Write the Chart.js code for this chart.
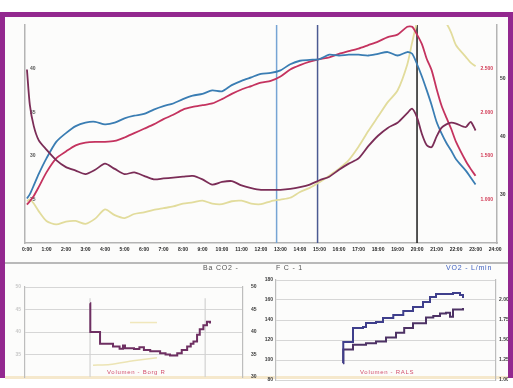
<!DOCTYPE html>
<html>
<head>
<meta charset="utf-8">
<script src="https://cdn.jsdelivr.net/npm/chart.js@4.4.1/dist/chart.umd.min.js"></script>
<style>
  html, body { margin: 0; padding: 0; width: 513px; height: 388px; overflow: hidden; background: #ffffff; }
  #frame { position: absolute; left: 0; top: 12px; width: 503px; height: 361px;
           border: 5px solid #93288f; border-bottom: none; background: #fcfcfb; }
  #sep { position: absolute; left: 5px; top: 262px; width: 503px; height: 2px; background: #b9b9b9; }
  #band { position: absolute; left: 5px; top: 376px; width: 503px; height: 3px; background: #f5e8cc; }
  canvas { position: absolute; }
  .hdr { position: absolute; top: 264px; font: 7px "Liberation Sans", sans-serif; letter-spacing: 0.8px; color: #555; white-space: nowrap; }
  .foot { position: absolute; top: 369px; font: 6px "Liberation Sans", sans-serif; letter-spacing: 0.7px; color: #d2506e; white-space: nowrap; }
</style>
</head>
<body>
<div id="frame"></div>
<div id="sep"></div>
<div id="band"></div>
<canvas id="main" width="502" height="246" style="left:5px;top:17px;"></canvas>
<canvas id="lowLeft" width="258" height="112" style="left:5px;top:276px;"></canvas>
<canvas id="lowRight" width="253" height="114" style="left:255px;top:274px;"></canvas>
<div class="hdr" style="left:203px;">Ba CO2 -</div>
<div class="hdr" style="left:276px;">F C - 1</div>
<div class="hdr" style="left:446px;color:#3d5fbf;">VO2 - L/min</div>
<div class="foot" style="left:107px;">Volumen - Borg R</div>
<div class="foot" style="left:360px;">Volumen - RALS</div>
<script>
// ---- Main test trend: time base in minutes ----
const minutes = [0,0.15,0.35,0.6,1,1.5,2,2.5,3,3.5,4,4.5,5,5.5,6,6.5,7,7.5,8,8.5,9,9.5,10,10.5,11,11.5,12,12.5,13,13.5,14,14.5,15,15.5,16,16.5,17,17.5,18,18.5,19,19.5,19.75,20,20.25,20.5,20.75,21,21.25,21.5,21.75,22,22.5,22.75,23];

// VO2 (L/min), blue
const vo2 = [1.01,1.06,1.16,1.29,1.47,1.66,1.76,1.84,1.88,1.89,1.86,1.88,1.93,1.96,1.98,2.03,2.07,2.10,2.15,2.19,2.21,2.25,2.24,2.31,2.36,2.40,2.44,2.45,2.48,2.55,2.59,2.60,2.61,2.66,2.65,2.66,2.66,2.65,2.67,2.69,2.65,2.69,2.67,2.55,2.41,2.25,2.08,1.89,1.76,1.65,1.56,1.46,1.33,1.25,1.17];

// VCO2 (L/min), red
const vco2 = [0.94,0.98,1.04,1.14,1.31,1.47,1.55,1.62,1.65,1.66,1.66,1.67,1.71,1.76,1.81,1.86,1.92,1.97,2.03,2.06,2.08,2.10,2.15,2.21,2.26,2.30,2.34,2.36,2.41,2.49,2.54,2.58,2.61,2.63,2.67,2.70,2.73,2.77,2.81,2.86,2.89,2.98,2.98,2.89,2.78,2.61,2.48,2.27,2.08,1.94,1.81,1.66,1.44,1.35,1.27];

// Ventilatory equivalent, plum
const eqO2 = [39.9,35.8,33.4,31.8,30.7,29.5,28.7,28.3,27.9,28.4,29.1,28.5,27.9,28.1,27.7,27.3,27.4,27.5,27.6,27.7,27.3,26.7,27.0,27.1,26.6,26.3,26.1,26.1,26.1,26.2,26.4,26.7,27.2,27.6,28.4,29.1,29.7,31.1,32.3,33.2,33.8,34.9,35.4,34.4,32.5,31.2,31.0,32.2,33.2,33.6,33.8,33.7,33.3,33.9,32.9];

// Ventilation, pale yellow
const ve = [28.9,29.2,28.5,27.2,25.5,24.9,25.4,25.5,25.0,25.9,27.5,26.5,26.0,26.7,27.0,27.4,27.7,28.0,28.5,28.7,29.0,28.5,28.4,28.9,29.0,28.5,28.4,28.9,29.2,29.5,30.5,31.2,32.2,33.3,34.5,36.0,38.3,41.0,43.5,46.0,48.0,52.5,56.3,59.8,62.1,63.0,62.1,61.3,60.5,59.6,58.0,55.8,53.8,52.8,52.2];

// Event markers (minutes) and their colours
const markerTimes = [12.8, 14.9, 20.0];
const markerColors = ['#76a4d4', '#4b5a92', '#1c1c1c'];

// Axis ticks and labels
const timeTicks = [0,1,2,3,4,5,6,7,8,9,10,11,12,13,14,15,16,17,18,19,20,21,22,23,24];
const timeLabels = ['0:00','1:00','2:00','3:00','4:00','5:00','6:00','7:00','8:00','9:00','10:00','11:00','12:00','13:00','14:00','15:00','16:00','17:00','18:00','19:00','20:00','21:00','22:00','23:00','24:00'];
const eqTicks = [25, 30, 35, 40];
const flowTicks = [1.0, 1.5, 2.0, 2.5];
const veTicks = [30, 40, 50];

// ---- Lower left panel: staged gas value ----
const gasTime = [7.12,7.15,8.23,9.67,10.4,10.78,11.0,12.0,12.6,13.1,13.8,14.9,15.5,16.0,16.8,17.3,17.9,18.3,18.6,19.0,19.3,19.7,20.1,20.44];
const gasValue = [46.4,40.0,37.4,36.8,36.3,37.0,36.4,36.2,36.6,36.0,35.7,35.3,35.0,34.8,35.3,36.0,36.8,37.4,37.9,39.4,40.6,41.5,42.3,41.9];
const gasBaseTime = [7.45, 9.34, 11.9, 14.55];
const gasBaseValue = [32.6, 32.8, 33.6, 34.3];
const gasRefTime = [11.56, 14.55];
const gasRefValue = [42.1, 42.1];
const gasMarkTimes = [7.12, 19.9];
const gasTicks = [35, 40, 45, 50];
const gasRightTicks = [30, 35, 40, 45, 50];

// ---- Lower right panel: heart rate and VO2 by stage ----
const hrTime = [7.27,7.3,8.37,9.47,9.8,10.9,11.67,12.8,13.9,14.97,16.07,16.84,17.5,19.37,20.14,20.47];
const hrValue = [97,118,132,133,137,138,142,145,149,153,158,163,166,167,165,162];
const stageVo2Time = [7.27,7.3,8.37,9.8,10.9,12.0,13.1,14.0,14.97,16.4,17.2,17.94,18.6,19.04,19.37,20.47];
const stageVo2 = [1.21,1.38,1.44,1.46,1.48,1.53,1.59,1.65,1.71,1.78,1.80,1.83,1.84,1.79,1.88,1.90];
const hrTicks = [80, 100, 120, 140, 160, 180];
const stageVo2Ticks = [1.00, 1.25, 1.50, 1.75, 2.00];

Chart.defaults.font.family = '"Liberation Sans", sans-serif';
const tickFont = { size: 5, weight: 'bold' };

function pts(xs, ys) { return xs.map((x, i) => ({ x: x, y: ys[i] })); }
function fixedTicks(list) { return s => { s.ticks = list.map(v => ({ value: v })); }; }
function line(data, color, axis, width, extra) {
  return Object.assign({ data: data, borderColor: color, borderWidth: width, pointRadius: 0,
    fill: false, yAxisID: axis, tension: 0.25 }, extra || {});
}
const base = { responsive: false, animation: false, devicePixelRatio: 1,
  plugins: { legend: { display: false }, tooltip: { enabled: false } } };

// ---- Main chart ----
const mainSets = [
  line(pts(minutes, eqO2), '#7b2d57', 'y', 1.8, { order: 1 }),
  line(pts(minutes, vo2), '#3a7db3', 'yFlow', 1.8, { order: 2 }),
  line(pts(minutes, vco2), '#c4335f', 'yFlow', 1.8, { order: 3 }),
  line(pts(minutes, ve), '#e2dc9c', 'yVe', 1.8, { order: 4 })
];
markerTimes.forEach((t, i) => {
  mainSets.push(line([{ x: t, y: 20 }, { x: t, y: 45 }], markerColors[i], 'y', 1.5, { order: 10, tension: 0 }));
});

new Chart(document.getElementById('main'), {
  type: 'line',
  data: { datasets: mainSets },
  options: Object.assign({}, base, {
    layout: { padding: 0 },
    scales: {
      x: { type: 'linear', min: -0.1, max: 24.1,
        afterBuildTicks: fixedTicks(timeTicks),
        afterFit: s => { s.height = 20; },
        ticks: { autoSkip: false, maxRotation: 0, padding: 4, color: '#262626', font: tickFont,
          callback: v => timeLabels[timeTicks.indexOf(v)] },
        grid: { display: false, drawTicks: false },
        border: { color: '#b4b4b4', width: 1.5 } },
      y: { position: 'left', min: 20, max: 45,
        afterBuildTicks: fixedTicks(eqTicks),
        afterFit: s => { s.width = 20; },
        ticks: { mirror: true, padding: 5, color: '#555', font: tickFont },
        grid: { display: false, drawTicks: false },
        border: { color: '#b4b4b4', width: 1.5 } },
      yFlow: { position: 'right', min: 0.5, max: 3.0,
        afterBuildTicks: fixedTicks(flowTicks),
        afterFit: s => { s.width = 0; },
        ticks: { mirror: true, padding: -4, color: '#d23a55', font: tickFont,
          callback: v => v.toFixed(3) },
        grid: { display: false, drawTicks: false },
        border: { color: '#b4b4b4', width: 1.5 } },
      yVe: { position: 'right', min: 21.7, max: 59.3,
        afterBuildTicks: fixedTicks(veTicks),
        afterFit: s => { s.width = 10; },
        ticks: { padding: 3, color: '#333', font: tickFont },
        grid: { display: false, drawTicks: false },
        border: { display: false } }
    }
  })
});

// ---- Lower left chart ----
const gasSets = [
  line(pts(gasTime, gasValue), '#6e2f62', 'y', 2, { stepped: true, tension: 0, order: 1 }),
  line(pts(gasBaseTime, gasBaseValue), '#ece4b4', 'y', 1.5, { order: 2 }),
  line(pts(gasRefTime, gasRefValue), '#f0e7bb', 'y', 1.5, { order: 3, tension: 0 })
];
gasMarkTimes.forEach(t => {
  gasSets.push(line([{ x: t, y: 30 }, { x: t, y: 47.5 }], '#d2d2d2', 'y', 1.2, { order: 10, tension: 0 }));
});

new Chart(document.getElementById('lowLeft'), {
  type: 'line',
  data: { datasets: gasSets },
  options: Object.assign({}, base, {
    layout: { padding: { top: 7, bottom: 11 } },
    scales: {
      x: { type: 'linear', min: -0.1, max: 24.1, display: false },
      y: { position: 'left', min: 30, max: 50,
        afterBuildTicks: fixedTicks(gasTicks),
        afterFit: s => { s.width = 20; },
        ticks: { padding: 4, color: '#c9c9c9', font: tickFont },
        grid: { color: '#d6d6d6', lineWidth: 1, drawTicks: false },
        border: { color: '#bdbdbd', width: 1.2 } },
      yR: { position: 'right', min: 30, max: 50,
        afterBuildTicks: fixedTicks(gasRightTicks),
        afterFit: s => { s.width = 20; },
        ticks: { padding: 8, color: '#3a3a3a', font: tickFont },
        grid: { display: false, drawTicks: false },
        border: { color: '#bdbdbd', width: 1.2 } }
    }
  })
});

// ---- Lower right chart ----
new Chart(document.getElementById('lowRight'), {
  type: 'line',
  data: { datasets: [
    line(pts(hrTime, hrValue), '#3f3f8c', 'y', 2, { stepped: true, tension: 0 }),
    line(pts(stageVo2Time, stageVo2), '#4d3265', 'yR', 2, { stepped: true, tension: 0 })
  ] },
  options: Object.assign({}, base, {
    layout: { padding: { top: 6, bottom: 8 } },
    scales: {
      x: { type: 'linear', min: -0.1, max: 24.1, display: false },
      y: { position: 'left', min: 80, max: 180,
        afterBuildTicks: fixedTicks(hrTicks),
        afterFit: s => { s.width = 21; },
        ticks: { padding: 3, color: '#3a3a3a', font: tickFont },
        grid: { color: '#d6d6d6', lineWidth: 1, drawTicks: false },
        border: { color: '#bdbdbd', width: 1.2 } },
      yR: { position: 'right', min: 1.0, max: 2.25,
        afterBuildTicks: fixedTicks(stageVo2Ticks),
        afterFit: s => { s.width = 12; },
        ticks: { padding: 3, color: '#3a3a3a', font: tickFont, callback: v => v.toFixed(2) },
        grid: { display: false, drawTicks: false },
        border: { color: '#bdbdbd', width: 1.2 } }
    }
  })
});
</script>
</body>
</html>
